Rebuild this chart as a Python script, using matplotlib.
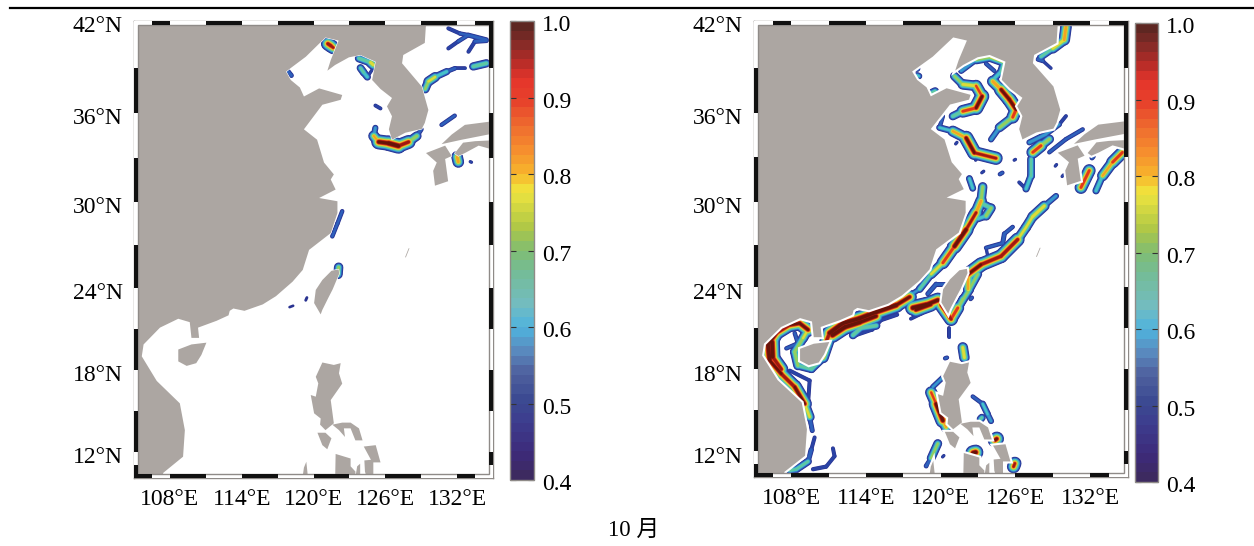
import matplotlib

matplotlib.use("Agg")

import matplotlib.pyplot as plt
import numpy as np
from matplotlib.cm import ScalarMappable
from matplotlib.collections import LineCollection
from matplotlib.colors import LinearSegmentedColormap, Normalize
from matplotlib.patches import Rectangle
from matplotlib.transforms import ScaledTranslation

plt.rcParams["font.family"] = ["Liberation Serif", "Noto Sans CJK SC"]
plt.rcParams["font.size"] = 17

# Map graticule
LON_TICKS = [108, 114, 120, 126, 132]
LAT_TICKS = [12, 18, 24, 30, 36, 42]
CBAR_TICKS = [0.4, 0.5, 0.6, 0.7, 0.8, 0.9, 1.0]

# Latitudes of the picture's ruler and where they sit, the projection is not a clean Mercator
LAT_KNOTS = [0, 10, 11, 12, 18, 24, 30, 36, 39, 42, 50]
LAT_ROWS = [608, 478, 465, 452, 370, 288, 202, 113, 68, 21, -105]

# Black pieces of the alternating border
TOP_BLACK = [(106.5, 108), (111, 114), (117, 120), (123, 126), (129, 132), (133.5, 135)]
BOTTOM_BLACK = [(105, 106.5), (108, 111), (114, 117), (120, 123), (126, 129), (132, 133.5)]
LEFT_BLACK = [(10, 11), (12, 15), (18, 21), (24, 27), (30, 33), (36, 39)]
RIGHT_BLACK = [(11, 12), (15, 18), (21, 24), (27, 30), (33, 36), (39, 42)]

# Land outlines, lon / lat
MAINLAND_LON = [129.5, 129.3, 127.5, 127.4, 129.05, 129.6, 129.3, 129.05, 127.67, 126.56, 126.3, 126.56,
                126.14, 126.56, 125.6, 124.9, 125.2, 123.93, 122.96, 121.8, 121.16, 121.44, 122.1, 121.0,
                119.36, 117.7, 118.1, 118.86, 119.2, 120.47, 122.4, 122.27, 120.74, 119.2, 120.3, 120.88,
                121.7, 121.44, 121.85, 120.47, 122.0, 122.0, 121.44, 119.63, 119.1, 118.25, 116.86, 115.76,
                114.23, 113.3, 113.0, 112.9, 111.9, 110.35, 110.44, 109.8, 109.66, 108.7, 107.17, 105.8,
                105.65, 106.9, 108.83, 109.25, 109.1, 107.45, 107.2, 104, 104, 129.5]
MAINLAND_LAT = [43, 40.6, 39.83, 39.3, 37.76, 36.2, 35.33, 34.93, 34.67, 34.2, 34.9, 35.78,
                36.44, 37.0, 37.6, 38.2, 39.4, 39.83, 39.68, 39.19, 38.82, 39.5, 40.75, 40.95,
                39.72, 38.76, 38.2, 37.7, 37.1, 37.64, 37.2, 36.88, 36.55, 34.9, 34.2, 32.66,
                31.86, 31.52, 30.84, 30.27, 30.05, 29.23, 27.83, 26.66, 25.26, 24.44, 23.4, 22.8,
                22.33, 22.5, 22.33, 22.0, 21.6, 21.1, 20.35, 20.35, 21.5, 21.75, 21.1, 19.87,
                19.0, 17.2, 15.56, 13.6, 11.64, 10.4, 9.5, 9.5, 43, 43]
HAINAN_LON = [108.7, 109.8, 111.05, 110.63, 110.2, 109.4, 108.7]
HAINAN_LAT = [19.5, 19.87, 20.0, 19.1, 18.5, 18.3, 18.63]
TAIWAN_LON = [122.1, 121.5, 120.74, 120.19, 120.05, 120.6, 120.74, 121.25, 121.6, 122.0, 122.15]
TAIWAN_LAT = [25.3, 25.2, 24.56, 23.86, 22.9, 22.07, 22.4, 23.3, 23.9, 24.7, 25.0]
LUZON_LON = [120.74, 121.7, 122.27, 122.13, 122.4, 121.44, 121.7, 121.0, 120.55, 120.6, 120.05, 119.77, 120.19, 120.4, 120.19]
LUZON_LAT = [18.55, 18.37, 18.5, 17.76, 17.0, 15.8, 14.1, 13.6, 14.0, 14.45, 14.83, 16.17, 16.05, 17.02, 17.5]
BICOL_LON = [121.57, 122.4, 123.1, 123.8, 124.1, 123.5, 123.1, 122.54, 122.63, 122.13]
BICOL_LAT = [14.0, 14.15, 14.15, 13.73, 12.85, 12.85, 13.73, 13.73, 13.1, 13.6]
MINDORO_LON = [120.33, 121.0, 121.5, 121.15, 120.74]
MINDORO_LAT = [13.41, 13.41, 13.0, 12.2, 12.5]
PANAY_LON = [121.85, 123.1, 123.1, 123.5, 123.5, 121.8]
PANAY_LAT = [11.85, 11.5, 10.9, 10.5, 9.5, 9.5]
SAMAR_LON = [124.2, 125.2, 125.6, 125.0, 125.0, 124.6, 124.3, 124.25, 124.8]
SAMAR_LAT = [12.4, 12.5, 11.2, 11.2, 9.5, 9.5, 10.5, 11.35, 11.4]
PALAWAN_LON = [119.4, 119.6, 119.0, 119.2]
PALAWAN_LAT = [11.25, 9.5, 9.5, 10.8]
CEBU_LON = [123.65, 123.9, 123.9, 123.4]
CEBU_LAT = [10.9, 11.1, 9.5, 9.5]
HONSHU_LON = [136, 132.65, 131.55, 130.7, 132.4, 136]
HONSHU_LAT = [35.55, 35.2, 34.55, 33.9, 34.2, 34.77]
KYUSHU_LON = [129.4, 131.0, 131.55, 131.0, 131.25, 130.15, 130.0, 130.3]
KYUSHU_LAT = [33.3, 33.8, 33.1, 32.9, 31.4, 31.1, 32.1, 32.66]
SHIKOKU_LON = [131.8, 132.5, 133.5, 136, 136, 133.8, 132.65, 132.1]
SHIKOKU_LAT = [33.28, 34.0, 34.1, 34.2, 33.3, 33.8, 33.3, 33.1]
OKINAWA_LON = [127.95, 127.65, 127.72, 128.02]
OKINAWA_LAT = [26.77, 26.14, 26.14, 26.77]

# Frequency ridges seen in the left panel: lon, lat, value along each ridge
LEFT_FRONTS = [
    ([121.2, 121.45, 121.65], [40.55, 40.42, 40.3], [0.85, 1.0, 0.8]),
    ([117.85, 118.15], [38.8, 38.5], [0.55, 0.5]),
    ([123.8, 124.77, 125.0], [39.62, 39.36, 39.2], [0.5, 0.85, 0.7]),
    ([123.93, 124.2, 124.5], [39.0, 38.7, 38.4], [0.6, 0.7, 0.55]),
    ([124.5, 125.0], [38.4, 39.0], [0.45, 0.45]),
    ([125.17, 125.6], [36.5, 36.3], [0.5, 0.45]),
    ([125.17, 125.04, 125.45, 126.28, 127.1, 127.95, 128.64, 129.0],
     [35.0, 34.45, 34.05, 33.96, 33.78, 34.05, 34.45, 34.9],
     [0.5, 0.65, 0.95, 1.0, 1.0, 0.85, 0.6, 0.45]),
    ([129.33, 129.6, 130.16, 131.13, 131.82, 132.65],
     [37.6, 38.1, 38.4, 38.76, 38.98, 38.98],
     [0.6, 0.8, 0.7, 0.55, 0.48, 0.45]),
    ([131.27, 132.24, 132.93, 134.45], [41.53, 41.2, 41.1, 40.8], [0.47, 0.5, 0.5, 0.55]),
    ([131.27, 132.1, 132.93], [40.25, 40.7, 41.1], [0.47, 0.5, 0.5]),
    ([132.95, 133.5, 134.45], [40.04, 40.7, 40.75], [0.47, 0.5, 0.55]),
    ([133.35, 134.45], [39.1, 39.3], [0.5, 0.85]),
    ([130.7, 131.8], [35.2, 35.82], [0.5, 0.5]),
    ([132.0, 132.1], [33.05, 32.7], [1.0, 0.65]),
    ([133.1, 133.2], [32.72, 32.68], [0.45, 0.45]),
    ([122.4, 122.0, 121.57], [29.36, 28.5, 27.6], [0.48, 0.52, 0.48]),
    ([122.1, 122.05], [25.45, 24.95], [0.5, 0.95]),
    ([119.35, 119.45], [23.1, 23.3], [0.43, 0.43]),
    ([118.0, 118.3], [22.6, 22.7], [0.42, 0.42]),
]

# Same for the right panel
RIGHT_FRONTS = [
    ([130.06, 129.92, 129.0, 128.05], [41.64, 40.8, 40.25, 39.72], [0.8, 0.85, 0.7, 0.6]),
    ([127.8, 128.2, 128.85], [39.55, 39.45, 38.98], [0.55, 0.48, 0.43]),
    ([117.95, 118.1], [39.05, 38.95], [0.6, 0.6]),
    ([118.1, 118.25], [38.5, 38.45], [0.6, 0.6]),
    ([119.3, 119.55], [37.35, 37.45], [0.65, 0.65]),
    ([121.64, 122.84, 124.04, 125.1, 124.85, 124.18],
     [38.8, 39.53, 39.7, 39.4, 38.76, 38.2],
     [0.55, 0.6, 0.85, 0.7, 0.6, 0.65]),
    ([123.64, 124.3], [39.27, 38.8], [0.5, 0.5]),
    ([124.18, 124.85, 125.5, 126.05, 125.78, 124.71, 124.04],
     [38.1, 37.55, 36.9, 36.22, 35.7, 35.0, 34.2],
     [0.7, 0.95, 0.95, 0.95, 0.8, 0.65, 0.5]),
    ([121.1, 121.77, 122.84, 123.32, 122.84, 121.77, 120.97],
     [38.45, 37.9, 37.8, 37.1, 36.33, 36.1, 35.77],
     [0.6, 0.8, 0.75, 0.95, 0.95, 0.8, 0.55]),
    ([120.17, 119.9, 120.97, 122.04, 122.7, 124.44],
     [35.77, 35.0, 34.76, 34.3, 33.3, 32.93],
     [0.5, 0.5, 0.7, 0.9, 1.0, 0.8]),
    ([121.2, 121.3], [33.9, 34.0], [0.45, 0.45]),
    ([122.8, 122.9], [32.8, 32.9], [0.45, 0.45]),
    ([125.9, 126.0], [32.8, 32.85], [0.45, 0.45]),
    ([127.12, 128.45, 129.52, 130.06], [34.0, 34.55, 35.22, 35.78], [0.55, 0.6, 0.5, 0.45]),
    ([127.39, 128.05, 128.72], [33.33, 33.78, 34.22], [0.9, 0.85, 0.6]),
    ([128.72, 130.06, 131.4], [33.33, 34.22, 34.88], [0.5, 0.5, 0.5]),
    ([127.25, 127.25, 126.85], [32.9, 31.75, 30.86], [0.55, 0.75, 0.5]),
    ([126.3, 126.85], [31.3, 30.86], [0.45, 0.5]),
    ([124.75, 124.95], [31.85, 31.95], [0.5, 0.5]),
    ([123.3, 123.45], [31.95, 32.05], [0.45, 0.45]),
    ([129.2, 129.3], [32.4, 32.5], [0.45, 0.45]),
    ([129.75, 129.85], [31.7, 31.8], [0.45, 0.45]),
    ([131.26, 131.93], [30.95, 32.1], [0.75, 1.0]),
    ([132.47, 133.0, 133.8, 134.6], [30.73, 31.75, 32.66, 33.33], [0.5, 0.75, 0.85, 0.9]),
    ([132.15, 132.25], [32.95, 33.05], [0.5, 0.55]),
    ([122.3, 122.57], [31.56, 30.9], [0.6, 0.62]),
    ([123.37, 123.24, 122.84, 122.04, 121.1, 120.17, 119.23, 118.3, 117.7],
     [31.0, 30.05, 29.23, 28.05, 26.87, 25.72, 24.93, 23.88, 23.53],
     [0.6, 0.85, 0.8, 1.0, 0.95, 0.8, 0.7, 0.6, 0.5]),
    ([123.24, 124.04, 123.64, 122.97], [29.9, 29.55, 29.0, 28.8], [0.6, 0.75, 0.7, 0.55]),
    ([129.26, 128.32, 127.38, 126.85, 126.18, 124.84, 123.24, 122.17, 122.17, 121.77, 121.24],
     [30.38, 29.7, 28.95, 28.2, 27.35, 26.18, 25.6, 24.9, 23.86, 23.16, 22.2],
     [0.5, 0.65, 0.9, 0.6, 0.9, 0.95, 0.9, 1.0, 0.6, 0.55, 0.85]),
    ([125.78, 125.11, 124.98, 123.64, 123.77],
     [28.23, 27.75, 27.1, 26.77, 26.2],
     [0.5, 0.5, 0.55, 0.45, 0.45]),
    ([118.96, 119.63, 120.43], [23.53, 24.23, 24.23], [0.5, 0.55, 0.5]),
    ([117.76, 118.83, 119.77], [22.5, 22.73, 23.07], [1.0, 1.0, 0.95]),
    ([118.0, 119.2], [22.35, 22.75], [0.95, 0.95]),
    ([117.6, 118.5], [21.7, 22.1], [0.47, 0.47]),
    ([110.8, 111.07, 112.14, 113.48, 114.82, 116.42, 117.5],
     [20.03, 20.65, 21.37, 21.72, 22.2, 22.7, 23.3],
     [0.85, 1.0, 1.0, 1.0, 1.0, 1.0, 0.9]),
    ([111.3, 112.3, 113.5, 114.8], [20.5, 21.1, 21.45, 21.9], [1.0, 1.0, 1.0, 0.95]),
    ([112.95, 113.6, 114.82], [20.5, 21.03, 21.2], [0.55, 0.8, 0.55]),
    ([112.9, 114.5, 115.2, 116.5], [20.4, 20.9, 21.6, 22.0], [0.47, 0.47, 0.5, 0.47]),
    ([111.0, 110.56, 109.62, 108.53, 108.27, 108.94],
     [20.03, 18.85, 18.02, 18.27, 19.28, 20.28],
     [0.9, 0.7, 0.65, 0.7, 0.75, 0.7]),
    ([108.94, 109.34, 108.67, 107.87, 106.8, 106.13, 106.26, 107.2, 108.27, 109.07, 109.47, 109.68],
     [20.28, 20.9, 21.37, 21.25, 20.65, 19.8, 18.65, 17.66, 16.7, 15.46, 14.5, 13.5],
     [0.55, 0.95, 0.95, 0.95, 0.9, 1.0, 1.0, 0.9, 0.95, 0.95, 0.55, 0.5]),
    ([106.45, 106.5, 107.2], [20.0, 18.9, 18.0], [1.0, 1.0, 0.85]),
    ([107.87, 109.47, 109.34, 109.6], [17.9, 17.17, 15.46, 13.75], [0.48, 0.48, 0.48, 0.48]),
    ([107.07, 106.53, 107.07], [20.8, 19.4, 18.0], [0.6, 0.65, 0.55]),
    ([108.27, 108.53, 107.6], [20.65, 19.9, 19.53], [0.5, 0.5, 0.5]),
    ([109.87, 109.6, 109.34, 108.4, 107.87], [13.0, 12.1, 11.2, 10.6, 10.5], [0.48, 0.48, 0.6, 0.7, 0.6]),
    ([111.34, 111.47, 110.8, 109.74], [12.2, 11.6, 10.8, 10.6], [0.48, 0.48, 0.48, 0.5]),
    ([120.17, 119.36], [17.4, 16.7], [0.55, 0.55]),
    ([119.23, 119.63, 120.17, 120.43], [16.3, 15.46, 14.24, 13.75], [0.75, 0.95, 1.0, 0.6]),
    ([121.77, 121.9], [19.6, 18.85], [0.55, 1.0]),
    ([120.7, 120.7], [21.03, 20.4], [0.48, 0.48]),
    ([120.35, 120.5], [18.8, 18.85], [0.5, 0.5]),
    ([120.03, 120.83, 121.37, 122.17, 122.97],
     [22.72, 21.68, 22.5, 23.65, 24.93],
     [0.9, 0.95, 0.8, 0.6, 0.8]),
    ([122.4, 122.5], [23.15, 23.25], [0.5, 0.5]),
    ([122.57, 123.37, 123.77, 124.04], [16.0, 15.46, 14.7, 14.2], [0.45, 0.55, 0.65, 0.5]),
    ([123.2, 123.3], [14.35, 14.45], [0.65, 0.65]),
    ([119.76, 119.23, 118.83], [12.55, 11.45, 10.85], [0.8, 0.6, 0.45]),
    ([122.6, 122.8], [11.85, 11.9], [1.0, 1.0]),
    ([124.35, 124.5], [12.8, 12.9], [0.95, 0.95]),
    ([125.85, 125.95], [10.8, 11.05], [0.9, 0.9]),
    ([120.8, 121.05], [12.7, 12.4], [0.45, 0.45]),
    ([120.15, 120.25], [11.55, 11.65], [0.45, 0.45]),
]

LAND = [
    (MAINLAND_LON, MAINLAND_LAT),
    (HAINAN_LON, HAINAN_LAT),
    (TAIWAN_LON, TAIWAN_LAT),
    (LUZON_LON, LUZON_LAT),
    (BICOL_LON, BICOL_LAT),
    (MINDORO_LON, MINDORO_LAT),
    (PANAY_LON, PANAY_LAT),
    (SAMAR_LON, SAMAR_LAT),
    (PALAWAN_LON, PALAWAN_LAT),
    (CEBU_LON, CEBU_LAT),
    (HONSHU_LON, HONSHU_LAT),
    (KYUSHU_LON, KYUSHU_LAT),
    (SHIKOKU_LON, SHIKOKU_LAT),
    (OKINAWA_LON, OKINAWA_LAT),
]

# Colorbar is printed paler than the map itself
CBAR_STOPS = [
    (0.00, "#3d2a60"), (0.05, "#3d2a7a"), (0.12, "#3d3d8e"), (0.17, "#3c4a92"),
    (0.23, "#4f629f"), (0.28, "#5a8cc0"), (0.33, "#4fb3dd"), (0.38, "#73bcc0"),
    (0.45, "#74bc98"), (0.50, "#80bd73"), (0.55, "#aec746"), (0.62, "#e5e040"),
    (0.64, "#f2df3a"), (0.67, "#f7b52c"), (0.72, "#f6902e"), (0.78, "#ee6a2f"),
    (0.83, "#e7432b"), (0.88, "#e5352b"), (0.92, "#b52c28"), (0.97, "#7a2a26"),
    (1.00, "#5e2722"),
]
FRONT_STOPS = [
    (0.00, "#2a2f8c"), (0.12, "#2a45a8"), (0.22, "#2f6cc4"), (0.33, "#3cc0d8"),
    (0.45, "#60c8a0"), (0.55, "#a0d050"), (0.64, "#f0e030"), (0.71, "#f59a20"),
    (0.78, "#e63a1c"), (0.86, "#a81a10"), (0.94, "#6a1408"), (1.00, "#5e1208"),
]

_WIDTH, _HEIGHT = 1254, 546
_LAND_COLOR = "#aca6a2"
_FRAME_GRAY = "#8f8b88"


def lat_to_row(lat):
    return -np.interp(lat, LAT_KNOTS, LAT_ROWS)


def row_to_lat(row):
    return np.interp(row, -np.array(LAT_ROWS[::-1], dtype=float), LAT_KNOTS[::-1])


def box(x0, y0, x1, y1):
    # Pixel box of the picture to figure fractions
    return [x0 / _WIDTH, 1 - y1 / _HEIGHT, (x1 - x0) / _WIDTH, (y1 - y0) / _HEIGHT]


def draw_fronts(ax, fronts, cmap, norm):
    levels = np.arange(0.4, 1.0, 0.05)
    for level in levels:
        segments = []
        widths = []
        for lons, lats, values in fronts:
            for i in range(len(lons) - 1):
                value = (values[i] + values[i + 1]) / 2
                if value < level:
                    continue
                segments.append([(lons[i], lats[i]), (lons[i + 1], lats[i + 1])])
                widths.append(16 * (value - level) + 1.6)
        lc = LineCollection(
            segments,
            colors=[cmap(norm(level + 0.02))],
            linewidths=widths,
            capstyle="round",
            joinstyle="round",
            zorder=2,
        )
        ax.add_collection(lc, autolim=False)


def draw_border(ax, band_x, band_y):
    xt = ax.get_xaxis_transform()
    yt = ax.get_yaxis_transform()
    for y0 in (0, 1 - band_y):
        ax.add_patch(Rectangle((0, y0), 1, band_y, transform=ax.transAxes, fc="white", ec="none", zorder=5))
    for x0 in (0, 1 - band_x):
        ax.add_patch(Rectangle((x0, 0), band_x, 1, transform=ax.transAxes, fc="white", ec="none", zorder=5))
    ax.add_patch(
        Rectangle((band_x, band_y), 1 - 2 * band_x, 1 - 2 * band_y, transform=ax.transAxes,
                  fc="none", ec=_FRAME_GRAY, lw=1, zorder=6)
    )
    for lon0, lon1 in TOP_BLACK:
        ax.add_patch(Rectangle((lon0, 1 - band_y), lon1 - lon0, band_y, transform=xt, fc="#111111", ec="none", zorder=7))
    for lon0, lon1 in BOTTOM_BLACK:
        ax.add_patch(Rectangle((lon0, 0), lon1 - lon0, band_y, transform=xt, fc="#111111", ec="none", zorder=7))
    for lat0, lat1 in LEFT_BLACK:
        ax.add_patch(Rectangle((0, lat0), band_x, lat1 - lat0, transform=yt, fc="#111111", ec="none", zorder=7))
    for lat0, lat1 in RIGHT_BLACK:
        ax.add_patch(Rectangle((1 - band_x, lat0), band_x, lat1 - lat0, transform=yt, fc="#111111", ec="none", zorder=7))


def draw_map(fig, frame, fronts, cmap, norm, halo):
    ax = fig.add_axes(box(*frame))
    ax.set_yscale("function", functions=(lat_to_row, row_to_lat))
    ax.set_xlim(105, 135)
    ax.set_ylim(10, 42)

    draw_fronts(ax, fronts, cmap, norm)
    for lons, lats in LAND:
        # White halo goes under the land so the coast does not shrink
        ax.fill(lons, lats, fc="white", ec="white", lw=halo, zorder=2.5)
        ax.fill(lons, lats, fc=_LAND_COLOR, ec="none", zorder=3)

    band_x = 4 / (frame[2] - frame[0])
    band_y = 4 / (frame[3] - frame[1])
    draw_border(ax, band_x, band_y)

    ax.set_xticks(LON_TICKS, [f"{v}°E" for v in LON_TICKS])
    ax.set_yticks(LAT_TICKS, [f"{v}°N" for v in LAT_TICKS])
    ax.minorticks_off()
    ax.tick_params(length=0, pad=8)
    ax.tick_params(axis="x", pad=8)
    nudge = ScaledTranslation(0, -2.5 / 72, fig.dpi_scale_trans)
    for label in ax.get_yticklabels():
        label.set_transform(label.get_transform() + nudge)
    for spine in ax.spines.values():
        spine.set_color(_FRAME_GRAY)
        spine.set_linewidth(1)
    return ax


def draw_cbar(fig, frame, cmap, norm):
    cax = fig.add_axes(box(*frame))
    cb = fig.colorbar(ScalarMappable(norm=norm, cmap=cmap), cax=cax)
    cb.set_ticks(CBAR_TICKS, labels=[f"{v:.1f}" for v in CBAR_TICKS])
    cax.minorticks_off()
    cax.tick_params(direction="in", length=4, width=0.8, color="#333333", left=True, right=True, pad=6)
    nudge = ScaledTranslation(0, -1.5 / 72, fig.dpi_scale_trans)
    for label in cax.get_yticklabels():
        label.set_transform(label.get_transform() + nudge)
    cb.outline.set_edgecolor(_FRAME_GRAY)
    cb.outline.set_linewidth(1)


def main():
    cbar_cmap = LinearSegmentedColormap.from_list("ridge_bar", CBAR_STOPS, N=48)
    front_cmap = LinearSegmentedColormap.from_list("ridge", FRONT_STOPS, N=48)
    norm = Normalize(0.4, 1.0)

    fig = plt.figure(figsize=(_WIDTH / 100, _HEIGHT / 100), dpi=100)
    fig.add_artist(plt.Line2D([10 / _WIDTH, 1], [1 - 8 / _HEIGHT] * 2, color="black", lw=1.6))

    draw_map(fig, (134, 21, 493, 478), LEFT_FRONTS, front_cmap, norm, halo=0.8)
    draw_map(fig, (754, 21, 1127.5, 477), RIGHT_FRONTS, front_cmap, norm, halo=3)
    draw_cbar(fig, (510, 21, 534, 480), cbar_cmap, norm)
    draw_cbar(fig, (1135, 23, 1158, 482), cbar_cmap, norm)

    fig.text(634 / _WIDTH, 1 - 530 / _HEIGHT, "10 月", ha="center", va="center", fontsize=16.5)
    fig.savefig("out.png", dpi=100)


main()
